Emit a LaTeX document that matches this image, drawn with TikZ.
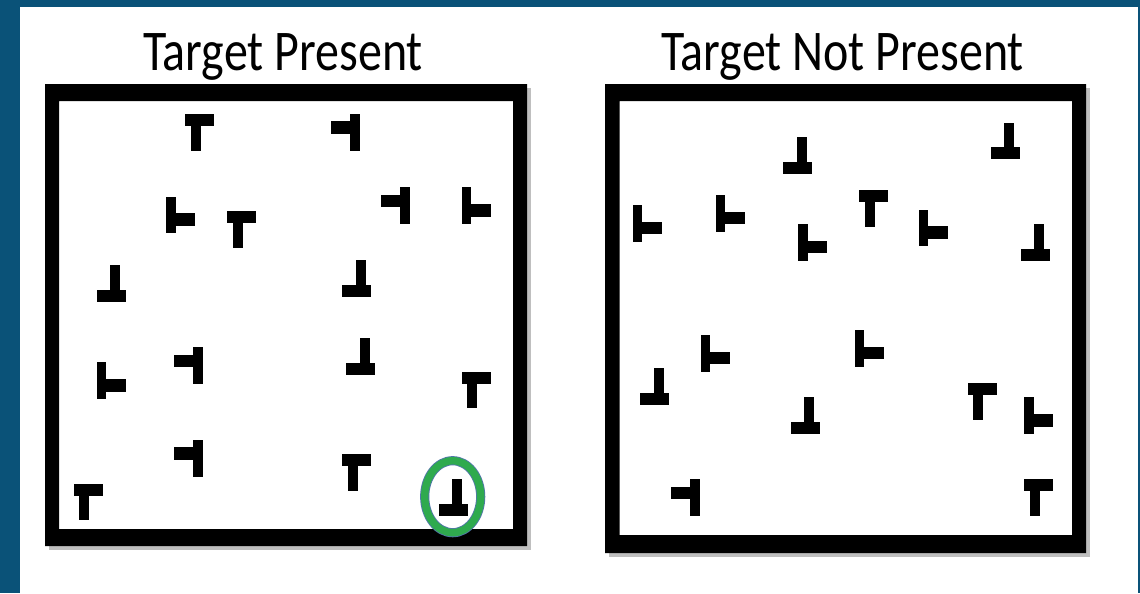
\documentclass[tikz,border=0pt]{standalone}
\usepackage{fontspec}
\setmainfont{Carlito}
\definecolor{slideblue}{HTML}{0A5278}
\definecolor{ringgreen}{HTML}{2FAA4E}
\definecolor{ringedge}{HTML}{5077A8}

\begin{document}
\begin{tikzpicture}[x=0.02cm, y=0.02cm,
        title/.style={anchor=base, font=\fontsize{27.3}{32}\selectfont},
        frame/.style={fill=black, even odd rule},
        shade/.style={fill=black!25},
        tee/.pic={
            \begin{scope}[yscale=1.27, rotate=#1]
                \fill (-14.5,5) rectangle (14.5,14.5);
                \fill (-8.8,-14.5) rectangle (1.2,5);
            \end{scope}
        }]

        \useasboundingbox (0,0) rectangle (1140,-593);

        % Slide
        \fill[slideblue] (0,0) rectangle (1140,-593);
        \fill[white] (20,-7) rectangle (1138,-593);

        % Titles
        \node[title] (present) at (283,-70.7) {\scalebox{1}[1.2]{Target Present}};
        \node[title] (absent) at (842.5,-70.7) {\scalebox{1}[1.2]{Target Not Present}};

        % Frames
        \fill[shade] (49,-88) rectangle (531,-550);
        \fill[shade] (609,-88) rectangle (1090,-557);
        \fill[white] (45,-84) rectangle (527,-546);
        \fill[white] (605,-84) rectangle (1086,-553);
        \fill[frame] (45,-84) rectangle (527,-546) (59,-101) rectangle (513,-529);
        \fill[frame] (605,-84) rectangle (1086,-553) (619.5,-101) rectangle (1072,-535);

        % Left display
        \pic at (199.5,-132.5) {tee=0};
        \pic at (345.2,-132.5) {tee=-90};
        \pic at (180.5,-215) {tee=90};
        \pic at (241.7,-229.7) {tee=0};
        \pic at (395.3,-205.7) {tee=-90};
        \pic at (476.2,-205.7) {tee=90};
        \pic at (111.3,-283.3) {tee=180};
        \pic at (356.8,-278.3) {tee=180};
        \pic at (111.3,-380.7) {tee=90};
        \pic at (188,-365.8) {tee=-90};
        \pic at (360.7,-356.3) {tee=180};
        \pic at (476.2,-390) {tee=0};
        \pic at (188,-458.3) {tee=-90};
        \pic at (356.8,-472.7) {tee=0};
        \pic at (88,-502) {tee=0};
        \pic at (453,-497.2) {tee=180};

        % Target ring
        \draw[ringedge, line width=5.2] (452.7,-496.7) ellipse (28 and 36);
        \draw[ringgreen, line width=4.2] (452.7,-496.7) ellipse (28 and 36);

        % Right display
        \pic at (797.8,-155.7) {tee=180};
        \pic at (1005,-141) {tee=180};
        \pic at (647.2,-223.3) {tee=90};
        \pic at (730,-213.3) {tee=90};
        \pic at (873.3,-208.7) {tee=0};
        \pic at (812.8,-242.3) {tee=90};
        \pic at (933.3,-228) {tee=90};
        \pic at (1035,-242.3) {tee=180};
        \pic at (715,-353.3) {tee=90};
        \pic at (869.3,-348.3) {tee=90};
        \pic at (654.7,-386.7) {tee=180};
        \pic at (805.3,-415.7) {tee=180};
        \pic at (982.2,-401.3) {tee=0};
        \pic at (1038.8,-415.7) {tee=90};
        \pic at (685,-497.7) {tee=-90};
        \pic at (1038.8,-497.7) {tee=0};

    \end{tikzpicture}
\end{document}
